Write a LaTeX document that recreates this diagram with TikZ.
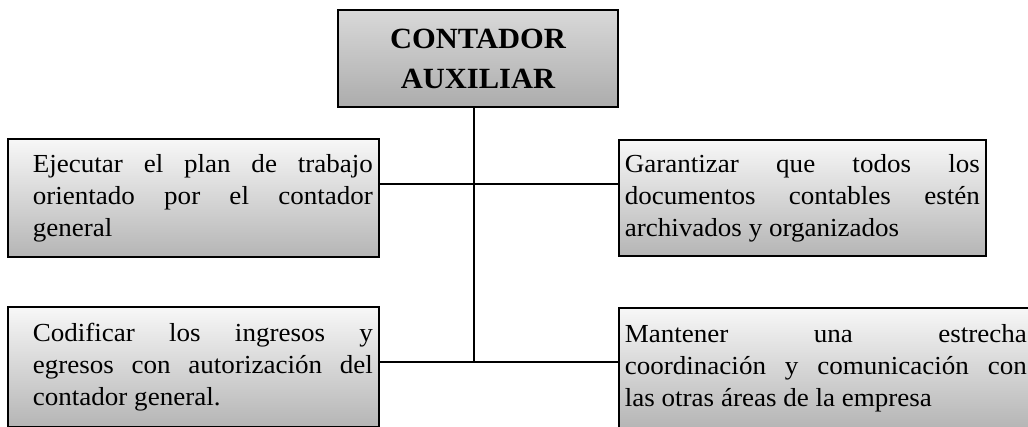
\documentclass[tikz,border=0pt]{standalone}
\usepackage{fontspec}
\setmainfont{Liberation Serif}[FakeStretch=1.04]
\usepackage{tikz}
\usetikzlibrary{calc}

\tikzset{
  boss/.style={draw, line width=1.3pt, top color=gray!30, bottom color=gray!65, align=center, font=\bfseries\fontsize{22}{30}\selectfont},
  duty/.style={draw, line width=1.3pt, top color=gray!6, bottom color=gray!58, anchor=north west, inner xsep=4.5pt, inner ysep=0pt, align=justify, font=\fontsize{19.5}{24}\selectfont},
  indent/.style={execute at begin node={\leftskip=14.25pt}},
  link/.style={line width=1pt},
}

\begin{document}
\begin{tikzpicture}[x=0.75pt,y=0.75pt,yscale=-1,xscale=1]
\useasboundingbox (0,0) rectangle (1028,426);
\clip (0,0) rectangle (1028,426);

%Shape: Rectangle [id:boss]
\node [boss, minimum width=210pt, minimum height=72.75pt] (boss) at (478,58.5) {CONTADOR\\AUXILIAR};

%Shape: Rectangle [id:plan]
\node [duty, indent, text width=269.25pt, minimum height=88.5pt] (plan) at (7,138) {Ejecutar el plan de trabajo\linebreak orientado por el contador\linebreak general};
%Shape: Rectangle [id:files]
\node [duty, text width=266.25pt, minimum height=87pt] (files) at (618,139) {Garantizar que todos los\linebreak documentos contables estén\linebreak archivados y organizados};
%Shape: Rectangle [id:codes]
\node [duty, indent, text width=269.25pt, minimum height=90pt] (codes) at (7,306) {Codificar los ingresos y\linebreak egresos con autorización del\linebreak contador general.};
%Shape: Rectangle [id:areas]
\node [duty, text width=301.5pt, minimum height=90pt] (areas) at (618,307) {Mantener una estrecha\linebreak coordinación y comunicación con\linebreak las otras áreas de la empresa};

\coordinate (upper) at (474,184);
\coordinate (lower) at (474,362);

%Straight Lines [id:trunk]
\draw [link] (boss.south -| upper) -- (lower);
%Straight Lines [id:upper]
\draw [link] (upper -| plan.east) -- (upper -| files.west);
%Straight Lines [id:lower]
\draw [link] (lower -| codes.east) -- (lower -| areas.west);

\end{tikzpicture}
\end{document}
